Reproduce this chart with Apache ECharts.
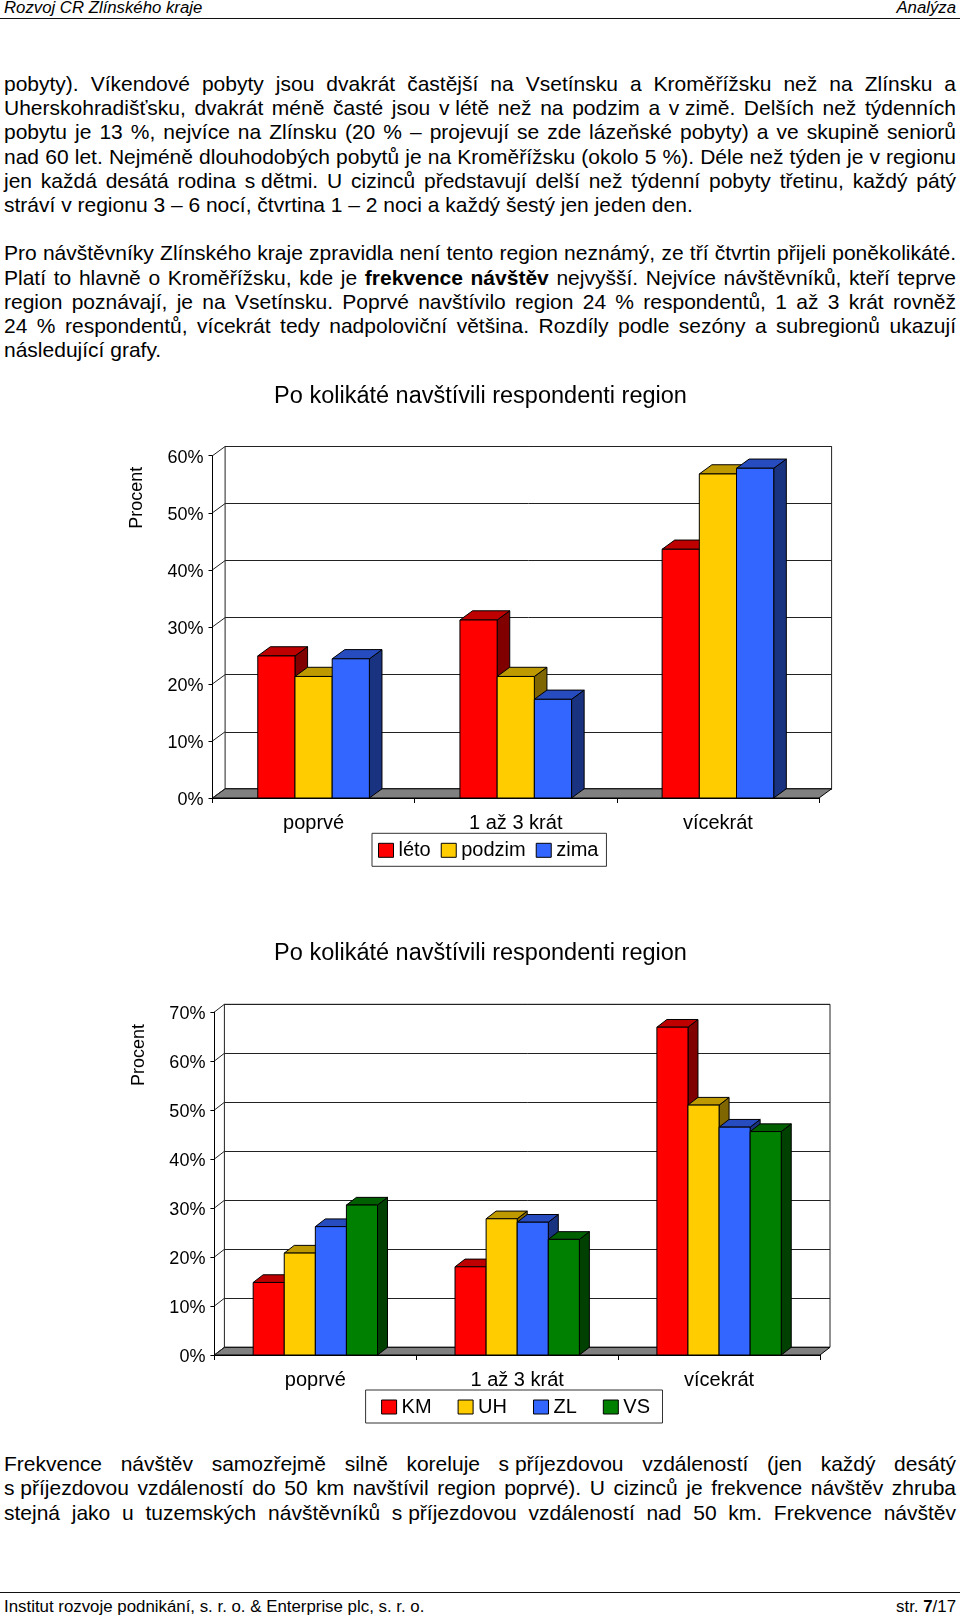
<!DOCTYPE html>
<html lang="cs">
<head>
<meta charset="utf-8">
<title>Rozvoj CR Zlínského kraje</title>
<script src="https://cdn.jsdelivr.net/npm/echarts@6/dist/echarts.min.js"></script>
<style>
html,body{margin:0;padding:0;background:#fff;}
#page{position:relative;width:960px;height:1617px;overflow:hidden;font-family:"Liberation Sans",Arial,sans-serif;color:#000;}
.ln{position:absolute;left:4px;width:952px;font-size:21px;line-height:24px;white-space:nowrap;}
.j{text-align:justify;text-align-last:justify;white-space:normal;}
.n{display:inline-block;text-align:left;text-align-last:left;white-space:nowrap;}
.rule{position:absolute;left:0;width:960px;height:0;border-top:1.5px solid #111;}
.hd{position:absolute;font-size:16.75px;line-height:18px;white-space:nowrap;}
.chart{position:absolute;left:0;width:960px;}
</style>
</head>
<body>
<div id="page"></div>
<script>
// ---------- chart data ----------
var categories = ['poprvé', '1 až 3 krát', 'vícekrát'];
var chart1Title = 'Po kolikáté navštívili respondenti region';
var chart2Title = 'Po kolikáté navštívili respondenti region';
var yAxisName = 'Procent';

var seasonNames = ['léto', 'podzim', 'zima'];
var leto   = [24.9, 31.2, 43.6];
var podzim = [21.3, 21.3, 56.8];
var zima   = [24.4, 17.3, 57.8];

var regionNames = ['KM', 'UH', 'ZL', 'VS'];
var km = [14.8, 18.0, 66.9];
var uh = [20.8, 27.8, 51.0];
var zl = [26.2, 27.1, 46.5];
var vs = [30.6, 23.6, 45.6];

var chart1Ticks = [0, 10, 20, 30, 40, 50, 60];
var chart2Ticks = [0, 10, 20, 30, 40, 50, 60, 70];

// ---------- page text ----------
function tight(s) { return '<span class="n">' + s + '</span>'; }
var proseLines = [
  [84,  'pobyty). Víkendové pobyty jsou dvakrát častější na Vsetínsku a Kroměřížsku než na Zlínsku a', 1],
  [108, 'Uherskohradišťsku, dvakrát méně časté jsou ' + tight('v létě') + ' než na podzim a ' + tight('v zimě.') + ' Delších než týdenních', 1],
  [132, 'pobytu je 13 %, nejvíce na Zlínsku (20 % – projevují se zde lázeňské pobyty) a ve skupině seniorů', 1],
  [156.5, 'nad 60 let. Nejméně dlouhodobých pobytů je na Kroměřížsku (okolo 5 %). Déle než týden je ' + tight('v regionu'), 1],
  [181, 'jen každá desátá rodina ' + tight('s dětmi.') + ' U cizinců představují delší než týdenní pobyty třetinu, každý pátý', 1],
  [205, 'stráví v regionu 3 – 6 nocí, čtvrtina 1 – 2 noci a každý šestý jen jeden den.', 0],
  [253, 'Pro návštěvníky Zlínského kraje zpravidla není tento region neznámý, ze tří čtvrtin přijeli poněkolikáté.', 1],
  [277.5, 'Platí to hlavně o Kroměřížsku, kde je <b>frekvence návštěv</b> nejvyšší. Nejvíce návštěvníků, kteří teprve', 1],
  [301.5, 'region poznávají, je na Vsetínsku. Poprvé navštívilo region 24 % respondentů, 1 až 3 krát rovněž', 1],
  [325.5, '24 % respondentů, vícekrát tedy nadpoloviční většina. Rozdíly podle sezóny a subregionů ukazují', 1],
  [350, 'následující grafy.', 0],
  [1463.5, 'Frekvence návštěv samozřejmě silně koreluje ' + tight('s příjezdovou') + ' vzdáleností (jen každý desátý', 1],
  [1488, tight('s příjezdovou') + ' vzdáleností do 50 km navštívil region poprvé). U cizinců je frekvence návštěv zhruba', 1],
  [1512.5, 'stejná jako u tuzemských návštěvníků ' + tight('s příjezdovou') + ' vzdáleností nad 50 km. Frekvence návštěv', 1]
];
var headerLeft = 'Rozvoj CR Zlínského kraje';
var headerRight = 'Analýza';
var footerLeft = 'Institut rozvoje podnikání, s. r. o. &amp; Enterprise plc, s. r. o.';
var footerRight = 'str. <b>7</b>/17';

var page = document.getElementById('page');
function addHtml(cls, css, html) {
  var d = document.createElement('div');
  d.className = cls;
  d.style.cssText = css;
  d.innerHTML = html;
  page.appendChild(d);
}
proseLines.forEach(function (l) {
  addHtml('ln' + (l[2] ? ' j' : ''), 'top:' + (l[0] - 12) + 'px', l[1]);
});
addHtml('hd', 'left:4px;top:-1px;font-style:italic', headerLeft);
addHtml('hd', 'right:4px;top:-1px;font-style:italic', headerRight);
addHtml('rule', 'top:18px', '');
addHtml('rule', 'top:1592px', '');
addHtml('hd', 'left:4px;top:1598px;font-size:16.85px', footerLeft);
addHtml('hd', 'right:4px;top:1598px;font-size:16.85px', footerRight);

// ---------- 3D-look column charts ----------
var FONT = '"Liberation Sans",Arial,sans-serif';
var palette = [
  { front: '#FF0000', top: '#BF0000', side: '#800000' },
  { front: '#FFCC00', top: '#BF9900', side: '#806600' },
  { front: '#3366FF', top: '#264CBF', side: '#1A3380' },
  { front: '#008000', top: '#006000', side: '#004000' }
];

function barRenderer(index, count, ratio, dx, dy, colors) {
  return function (params, api) {
    var cat = api.value(0), val = api.value(1);
    var base = api.coord([cat, 0]);
    var head = api.coord([cat, val]);
    var w = (api.coord([1, 0])[0] - api.coord([0, 0])[0]) * ratio;
    var x0 = base[0] - w * count / 2 + w * index;
    var x1 = x0 + w;
    var y0 = base[1], y1 = head[1];
    function poly(points, fill) {
      return { type: 'polygon', shape: { points: points },
        style: { fill: fill, stroke: '#000', lineWidth: 1 } };
    }
    return { type: 'group', children: [
      poly([[x1, y0], [x1 + dx, y0 - dy], [x1 + dx, y1 - dy], [x1, y1]], colors.side),
      poly([[x0, y1], [x0 + dx, y1 - dy], [x1 + dx, y1 - dy], [x1, y1]], colors.top),
      poly([[x0, y0], [x1, y0], [x1, y1], [x0, y1]], colors.front)
    ] };
  };
}

function frameRenderer(dx, dy) {
  return function (params, api) {
    var cs = params.coordSys;
    var t = api.value(1);
    var y = api.coord([0, t])[1];
    var kids = [];
    if (t === 0) {
      kids.push({ type: 'polygon', shape: { points: [
        [cs.x, y], [cs.x + cs.width, y], [cs.x + cs.width + dx, y - dy], [cs.x + dx, y - dy]
      ] }, style: { fill: '#808080', stroke: '#000', lineWidth: 1 } });
    }
    kids.push({ type: 'line', shape: { x1: cs.x, y1: y, x2: cs.x + dx, y2: y - dy },
      style: { stroke: '#222', lineWidth: 1 } });
    return { type: 'group', children: kids };
  };
}

function drawChart(cfg) {
  var el = document.createElement('div');
  el.className = 'chart';
  el.style.top = cfg.top + 'px';
  el.style.height = cfg.height + 'px';
  page.appendChild(el);
  var T = cfg.top;
  var chart = echarts.init(el, null, { renderer: 'canvas' });
  var series = [{
    name: 'frame', type: 'custom', xAxisIndex: 0, yAxisIndex: 0, z: 2, silent: true,
    renderItem: frameRenderer(cfg.dx, cfg.dy), clip: false,
    data: cfg.ticks.map(function (t) { return [0, t]; }), encode: { x: 0, y: 1 }
  }];
  cfg.names.forEach(function (name, i) {
    series.push({
      name: name, type: 'custom', xAxisIndex: 0, yAxisIndex: 0, z: 3, clip: false,
      itemStyle: { color: palette[i].front },
      renderItem: barRenderer(i, cfg.names.length, cfg.barRatio, cfg.dx, cfg.dy, palette[i]),
      data: cfg.values[i].map(function (v, c) { return [c, v]; }), encode: { x: 0, y: 1 }
    });
  });
  chart.setOption({
    animation: false,
    textStyle: { fontFamily: FONT, color: '#000' },
    title: { text: cfg.title, left: 480.5, top: cfg.titleY - T - 13, textAlign: 'center', padding: 0,
      textStyle: { fontFamily: FONT, fontSize: 23.5, fontWeight: 'normal', color: '#000', lineHeight: 26 } },
    legend: {
      data: cfg.names, icon: 'rect', left: cfg.legendX, top: cfg.legendY - T,
      itemWidth: 15, itemHeight: 14, itemGap: cfg.legendGap,
      padding: [7, cfg.legendPadR, 6, cfg.legendPadL], borderColor: '#333', borderWidth: 1, backgroundColor: '#fff',
      itemStyle: { borderColor: '#000', borderWidth: 1 },
      textStyle: { fontFamily: FONT, fontSize: 20, color: '#000', padding: [0, 0, 0, 0] }
    },
    grid: [
      { left: cfg.x, top: cfg.yTop - T, width: cfg.w, height: cfg.h, containLabel: false },
      { left: cfg.x + cfg.dx, top: cfg.yTop - cfg.dy - T, width: cfg.w, height: cfg.h,
        show: true, backgroundColor: '#fff', borderColor: '#222', borderWidth: 1 }
    ],
    xAxis: [
      { type: 'category', gridIndex: 0, data: categories,
        axisLine: { lineStyle: { color: '#000', width: 1 } },
        axisTick: { show: true, length: 5, lineStyle: { color: '#000' } },
        axisLabel: { fontFamily: FONT, fontSize: 20, color: '#000', margin: 15 },
        z: 4 },
      { type: 'category', gridIndex: 1, data: categories, axisLine: { show: false },
        axisTick: { show: false }, axisLabel: { show: false } }
    ],
    yAxis: [
      { type: 'value', gridIndex: 0, min: 0, max: cfg.max, interval: 10,
        axisLine: { show: true, lineStyle: { color: '#000', width: 1 } },
        axisTick: { show: true, length: 4, lineStyle: { color: '#000' } },
        splitLine: { show: false },
        axisLabel: { fontFamily: FONT, fontSize: 18, color: '#000', margin: 9, formatter: '{value}%',
          verticalAlign: 'top', lineHeight: 4 },
        z: 4 },
      { type: 'value', gridIndex: 1, min: 0, max: cfg.max, interval: 10,
        axisLine: { show: false }, axisTick: { show: false }, axisLabel: { show: false },
        splitLine: { show: true, lineStyle: { color: '#222', width: 1 } } }
    ],
    graphic: [{
      type: 'text', x: cfg.nameX, y: cfg.nameY - T, rotation: Math.PI / 2,
      style: { text: yAxisName, font: '18px ' + FONT, fill: '#000', textAlign: 'center', textVerticalAlign: 'middle' }
    }],
    series: series
  });
}

drawChart({
  top: 375, height: 510, title: chart1Title, titleY: 397,
  names: seasonNames, values: [leto, podzim, zima], ticks: chart1Ticks, max: 60,
  x: 212.5, w: 606.5, yTop: 455.7, h: 342.3, dx: 12.6, dy: 9.2, barRatio: 0.184,
  legendX: 372, legendY: 833.3, legendGap: 10, legendPadL: 6, legendPadR: 8, nameX: 137, nameY: 497.7
});
drawChart({
  top: 935, height: 495, title: chart2Title, titleY: 954,
  names: regionNames, values: [km, uh, zl, vs], ticks: chart2Ticks, max: 70,
  x: 214.4, w: 605.6, yTop: 1012, h: 343, dx: 10, dy: 7.7, barRatio: 0.154,
  legendX: 365.6, legendY: 1390, legendGap: 26, legendPadL: 15.5, legendPadR: 12.5, nameX: 139, nameY: 1055
});
</script>
</body>
</html>
